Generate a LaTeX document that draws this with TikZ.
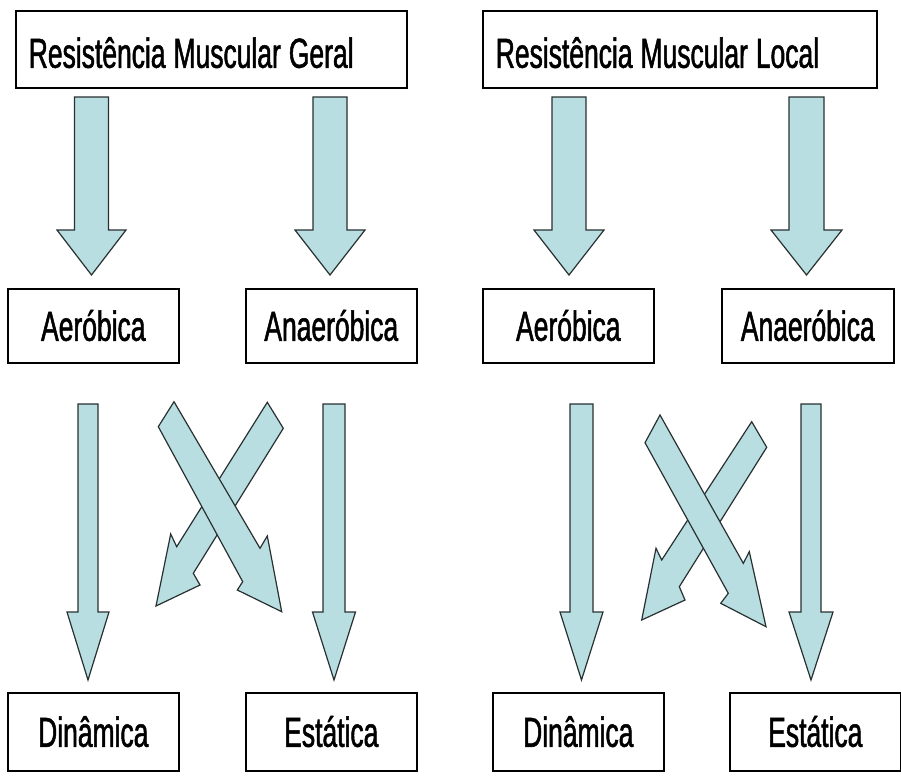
\documentclass[tikz,border=0pt]{standalone}
\usepackage{fontspec}
\newfontfamily\diagfont[FakeStretch=0.63,FakeBold=1.2]{Liberation Sans}
\newcommand\diagstyle{\diagfont\fontsize{42}{48}\selectfont\spaceskip=8pt plus 1pt minus 1pt\relax}
\definecolor{arrowfill}{RGB}{184,222,226}
\definecolor{arrowline}{RGB}{40,48,48}
\newcommand\vertarrow[6]{% cx, top, head y, tip y, shaft half width, head half width
  \draw[bigarrow] (#1-#5,#2) -- (#1+#5,#2) -- (#1+#5,#3) -- (#1+#6,#3) -- (#1,#4)
    -- (#1-#6,#3) -- (#1-#5,#3) -- cycle;}
\begin{document}
\begin{tikzpicture}[x=1pt,y=-1pt,
  box/.style={draw=black, line width=1.6pt, fill=white, inner sep=0pt,
    font=\diagstyle, text height=30pt, text depth=0pt},
  titlebox/.style={box, anchor=north west, align=flush left, inner xsep=13pt,
    minimum height=77pt, text height=40pt, text depth=3pt},
  smallbox/.style={box, anchor=north west, minimum width=171pt},
  bigarrow/.style={fill=arrowfill, draw=arrowline, line width=1.2pt, line join=miter}]
\fill[white] (0,0) rectangle (901,776);
\useasboundingbox (0,0) rectangle (901,776);

% top boxes
\node[titlebox, text width=365pt] (geral) at (15,10) {Resistência Muscular Geral};
\node[titlebox, text width=368pt] (local) at (482,10) {Resistência Muscular Local};

% middle boxes
\node[smallbox, minimum height=74pt] (aeroL) at (7,288) {Aeróbica};
\node[smallbox, minimum height=74pt] (anaeroL) at (245,288) {Anaeróbica};
\node[smallbox, minimum height=74pt] (aeroR) at (482,288) {Aeróbica};
\node[smallbox, minimum height=74pt, minimum width=172pt] (anaeroR) at (721,288) {Anaeróbica};

% bottom boxes
\node[smallbox, minimum height=78pt] (dinL) at (7,692) {Dinâmica};
\node[smallbox, minimum height=78pt] (estL) at (245,692) {Estática};
\node[smallbox, minimum height=78pt] (dinR) at (492,692) {Dinâmica};
\node[smallbox, minimum height=78pt] (estR) at (729,692) {Estática};

% top block arrows
\vertarrow{91.5}{97}{230}{275}{17}{34.5}
\vertarrow{330}{97}{230}{275}{17}{35}
\vertarrow{569}{97}{230}{275}{17}{35}
\vertarrow{806.5}{97}{230}{275}{17.5}{35.5}

% bottom vertical arrows
\vertarrow{88}{404}{612}{680}{10}{21}
\vertarrow{334}{404}{612}{680}{11}{21.5}
\vertarrow{581.5}{404}{612}{680}{11.5}{21.5}
\vertarrow{811}{404}{612}{680}{10}{22}

% left crossing arrows
\draw[bigarrow] (267.3,402.3) -- (283.3,428.3) -- (193.3,573.3) -- (200,585) -- (156,606)
  -- (170.7,534) -- (176.7,546.7) -- cycle;
\draw[bigarrow] (158.3,426.7) -- (174,401.7) -- (260,548.3) -- (267.3,536) -- (281.7,611.7)
  -- (237.3,590) -- (242.7,581.7) -- cycle;

% right crossing arrows
\draw[bigarrow] (751.7,421.7) -- (766.7,447.3) -- (679.3,586.7) -- (685,600) -- (641.7,620)
  -- (656,548.3) -- (661.7,560) -- cycle;
\draw[bigarrow] (645,442.7) -- (660,415) -- (743.3,563.3) -- (749.3,551.7) -- (766,626.7)
  -- (720.7,603.3) -- (728.3,593.3) -- cycle;
\end{tikzpicture}
\end{document}
